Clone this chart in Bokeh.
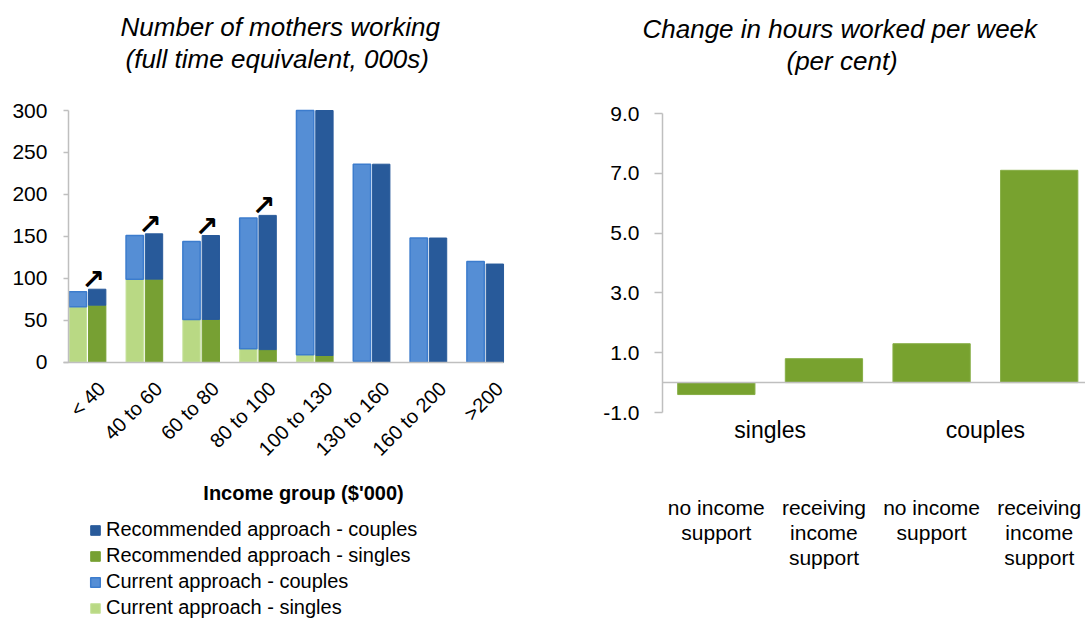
import math
import numpy as np
from bokeh.plotting import figure
from bokeh.models import (Range1d, FixedTicker, Legend, LegendItem, Span, Title, Label,
                          LinearAxis, NumeralTickFormatter, ColumnDataSource)
from bokeh.layouts import row
from bokeh.core.properties import value
from bokeh.embed import file_html
from bokeh.resources import INLINE

# ---------------- data ----------------
income_groups = ["< 40", "40 to 60", "60 to 80", "80 to 100",
                 "100 to 130", "130 to 160", "160 to 200", ">200"]
current_singles = [66, 99, 51, 16, 9, 1, 0, 0]
current_couples = [18, 52, 93, 156, 293, 235, 148, 120]
recommended_singles = [68, 99, 51, 15, 8, 0, 0, 0]
recommended_couples = [19, 54, 100, 160, 294, 236, 148, 117]
arrow_groups = ["< 40", "40 to 60", "60 to 80", "80 to 100"]
left_y_ticks = [0, 50, 100, 150, 200, 250, 300]

hours_groups = ["singles", "couples"]
hours_labels = ["no income\nsupport", "receiving\nincome\nsupport",
                "no income\nsupport", "receiving\nincome\nsupport"]
hours_change = [-0.4, 0.8, 1.3, 7.1]
right_y_ticks = [-1, 1, 3, 5, 7, 9]

FONT = "Liberation Sans"
AXIS_GREY = "#BFBFBF"
C_CUR_SINGLES = "#B9D984"
C_CUR_COUPLES = "#558ED5"
C_REC_SINGLES = "#77A033"
C_REC_COUPLES = "#285A9A"


def title(text, offset, standoff=0, size="26px", style="italic"):
    return Title(text=text, align="left", offset=offset, standoff=standoff,
                 text_font=FONT, text_font_size=size, text_font_style=style,
                 text_color="black")


def spacer(standoff):
    return Title(text=" ", standoff=standoff, text_font_size="1px")


def plain_axis(ax):
    ax.major_tick_out = 0
    ax.major_tick_in = 0
    ax.minor_tick_out = 0
    ax.minor_tick_in = 0


# ---------------- left chart ----------------
Y_MAX = left_y_ticks[-1]        # value axis maximum: taller bars are cut off there
idx = np.arange(len(income_groups))
cs = np.array(current_singles)
cc = np.array(current_couples)
rs = np.array(recommended_singles)
rc = np.array(recommended_couples)
src = ColumnDataSource(dict(
    cx=idx - 0.17, rx=idx + 0.17,
    cs=cs, ctot=np.minimum(cs + cc, Y_MAX),
    rs=rs, rtot=np.minimum(rs + rc, Y_MAX),
))

# The frame covers the whole left canvas below the titles, so that the value axis,
# the category labels, the axis label and the legend are all drawn inside it.
X0, X1 = -0.336, 7.322          # extent of the bar area
p1 = figure(width=568, height=619, x_range=Range1d(-1.5323, 8.466), y_range=Range1d(-306.7, 316.7),
            output_backend="svg", toolbar_location=None,
            min_border_left=0, min_border_right=0, min_border_top=96, min_border_bottom=0)
p1.frame_align = False
p1.outline_line_color = None
p1.xgrid.visible = False
p1.ygrid.visible = False

bw = 0.305
r_cs = p1.vbar(x="cx", bottom=0, top="cs", width=bw, source=src,
               fill_color=C_CUR_SINGLES, line_color="#C6E29A", line_width=1)
r_cc = p1.vbar(x="cx", bottom="cs", top="ctot", width=bw, source=src,
               fill_color=C_CUR_COUPLES, line_color="#3C7CCD", line_width=1.5)
r_rs = p1.vbar(x="rx", bottom=0, top="rs", width=bw, source=src,
               fill_color=C_REC_SINGLES, line_color=C_REC_SINGLES, line_width=1)
r_rc = p1.vbar(x="rx", bottom="rs", top="rtot", width=bw, source=src,
               fill_color=C_REC_COUPLES, line_color=C_REC_COUPLES, line_width=1)

a_idx = [income_groups.index(g) for g in arrow_groups]
arrow_src = ColumnDataSource(dict(
    x=[idx[i] + 0.1 for i in a_idx],
    y=[int(rs[i] + rc[i]) for i in a_idx],
    t=["\u2197"] * len(a_idx),
))
p1.text(x="x", y="y", text="t", source=arrow_src, text_align="center",
        text_baseline="bottom", y_offset=7, text_font=value("DejaVu Sans"),
        text_font_size="28px", text_font_style="bold", text_color="black")

xa = p1.xaxis[0]
xa.fixed_location = 0
xa.bounds = (X0 - 0.094, X1)
label_shift = 0.25              # Excel draws the slanted labels a little right of centre
xa.ticker = FixedTicker(ticks=[float(i) + label_shift for i in idx])
xa.major_label_overrides = {float(i) + label_shift: g for i, g in zip(idx, income_groups)}
xa.major_label_orientation = math.pi / 4
xa.major_label_text_font = FONT
xa.major_label_text_font_size = "20px"
xa.major_label_text_color = "black"
xa.major_label_standoff = 23
plain_axis(xa)
xa.axis_line_color = AXIS_GREY
xa.axis_line_width = 1.5

ya = p1.yaxis[0]
ya.fixed_location = X0
ya.bounds = (0, Y_MAX)
ya.ticker = FixedTicker(ticks=left_y_ticks)
ya.major_label_text_font = FONT
ya.major_label_text_font_size = "21px"
ya.major_label_text_color = "black"
ya.major_label_standoff = 16
plain_axis(ya)
ya.major_tick_out = 5
ya.major_tick_line_color = AXIS_GREY
ya.major_tick_line_width = 1.5
ya.axis_line_color = AXIS_GREY
ya.axis_line_width = 1.5

p1.add_layout(spacer(20), "above")
p1.add_layout(title("(full time equivalent, 000s)", 125), "above")
p1.add_layout(title("Number of mothers working", 120), "above")

p1.add_layout(Label(x=303, y=127, x_units="screen", y_units="screen",
                    text="Income group ($'000)", text_align="center", text_baseline="middle",
                    text_font=FONT, text_font_size="20px", text_font_style="bold",
                    text_color="black"))

legend = Legend(items=[
    LegendItem(label="Recommended approach - couples", renderers=[r_rc]),
    LegendItem(label="Recommended approach - singles", renderers=[r_rs]),
    LegendItem(label="Current approach - couples", renderers=[r_cc]),
    LegendItem(label="Current approach - singles", renderers=[r_cs]),
], location=(89, 0), orientation="vertical", glyph_width=12, glyph_height=12,
    label_standoff=5, spacing=3, padding=0, margin=0, border_line_color=None,
    background_fill_alpha=0, label_text_font=FONT, label_text_font_size="20px",
    label_height=20, label_text_color="black")
p1.add_layout(legend)

# ---------------- right chart ----------------
hx = np.arange(len(hours_change)) + 0.5
group_x = [float(hx[2 * k:2 * k + 2].mean()) for k in range(len(hours_groups))]

p2 = figure(width=517, height=619, x_range=Range1d(0, 3.93), y_range=Range1d(-1, 9),
            output_backend="svg", toolbar_location=None,
            min_border_left=94, min_border_right=0, min_border_top=113, min_border_bottom=207)
p2.frame_align = False
p2.outline_line_color = None
p2.xgrid.visible = False
p2.ygrid.visible = False

p2.vbar(x=hx, bottom=0, top=hours_change, width=0.718,
        fill_color="#78A22F", line_color="#86AE45", line_width=1)
p2.add_layout(Span(location=0, dimension="width", line_color=AXIS_GREY, line_width=1.5))

ya2 = p2.yaxis[0]
ya2.ticker = FixedTicker(ticks=right_y_ticks)
ya2.formatter = NumeralTickFormatter(format="0.0")
ya2.major_label_text_font = FONT
ya2.major_label_text_font_size = "21px"
ya2.major_label_text_color = "black"
ya2.major_label_standoff = 15
plain_axis(ya2)
ya2.major_tick_out = 8
ya2.major_tick_line_color = AXIS_GREY
ya2.major_tick_line_width = 1.5
ya2.axis_line_color = AXIS_GREY
ya2.axis_line_width = 1.5

xg = p2.xaxis[0]
xg.ticker = FixedTicker(ticks=group_x)
xg.major_label_overrides = {gx: g for gx, g in zip(group_x, hours_groups)}
xg.major_label_text_font = FONT
xg.major_label_text_font_size = "23px"
xg.major_label_text_color = "black"
xg.major_label_standoff = 4
xg.axis_line_color = None
plain_axis(xg)

xs = LinearAxis(ticker=FixedTicker(ticks=[float(v) for v in hx]),
                major_label_overrides={float(v): lab for v, lab in zip(hx, hours_labels)})
xs.major_label_text_font = FONT
xs.major_label_text_font_size = "21px"
xs.major_label_text_color = "black"
xs.major_label_text_line_height = 1.1
xs.major_label_standoff = 50
xs.axis_line_color = None
plain_axis(xs)
p2.add_layout(xs, "below")

p2.add_layout(spacer(35), "above")
p2.add_layout(title("(per cent)", 124), "above")
p2.add_layout(title("Change in hours worked per week", -20), "above")

layout = row(p1, p2)
open("out.html", "w").write(file_html(layout, INLINE))
